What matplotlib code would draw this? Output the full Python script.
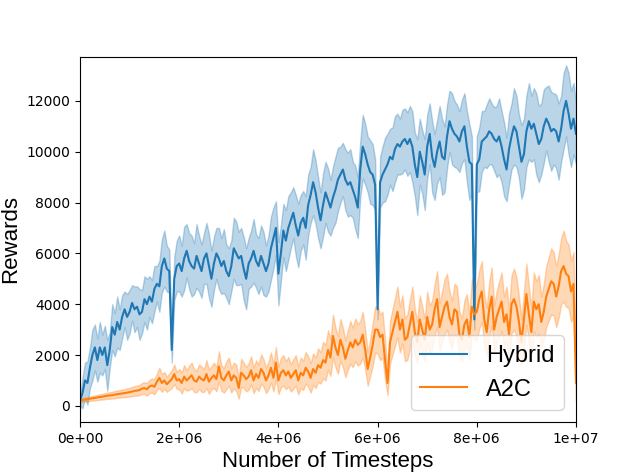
import numpy as np
import matplotlib
matplotlib.use('Agg')
import matplotlib.pyplot as plt
from matplotlib.ticker import FuncFormatter

plt.rcParams['font.family'] = ['DejaVu Sans']
label_font = ['Liberation Sans', 'DejaVu Sans']

# rewards sampled every 5e4 timesteps (0 .. 1e7)
hybrid_mean = [
    200, 500, 1000, 900, 1500, 2000, 2300, 1800, 2300, 2000, 2300, 1600, 2200, 3100, 2800, 3300, 3000, 3500, 3800, 3500,
    3700, 4050, 3800, 3900, 3600, 3700, 4200, 4000, 4300, 4100, 4600, 4800, 4700, 5500, 5800, 5400, 5300, 2200, 5000, 5500,
    5600, 5300, 5800, 6100, 5700, 5500, 5400, 5900, 5600, 5300, 5800, 6000, 5500, 5000, 5600, 6000, 5800, 5500, 5700, 5300,
    5100, 5500, 6200, 6000, 5800, 5900, 5400, 5000, 5600, 5800, 6100, 5700, 5500, 5900, 5600, 5300, 5600, 6200, 6600, 7000,
    5200, 6000, 6900, 6500, 7000, 7300, 7600, 7100, 6700, 7200, 7400, 7000, 7900, 8300, 8800, 8400, 7800, 7300, 7900, 8400,
    8100, 7800, 8200, 8500, 8900, 9100, 9300, 8900, 8700, 8800, 8500, 8200, 7800, 9300, 10200, 9900, 9500, 9200, 9100, 8700,
    3800, 8800, 9100, 9300, 9500, 9800, 9700, 10100, 10300, 10200, 10400, 10500, 10300, 10500, 10200, 9500, 9000, 10000, 9600, 9100,
    10200, 10700, 9800, 9400, 10000, 10400, 9800, 9700, 10600, 11200, 10900, 10700, 10600, 10400, 10800, 11000, 10200, 9600, 9500, 3400,
    9500, 9700, 10400, 10500, 10600, 10800, 10700, 10500, 10400, 10600, 10200, 9700, 9300, 10100, 10600, 11000, 10800, 10200, 9600, 9900,
    10800, 11200, 10900, 11100, 10700, 10300, 10500, 11000, 11300, 11100, 10800, 10900, 10800, 10400, 10900, 11600, 12000, 11500, 10900, 11300,
    10700,
]
hybrid_spread = [
    200, 600, 700, 850, 800, 1000, 900, 850, 1000, 800, 850, 1000, 700, 900, 850, 1000, 800, 850, 700, 900,
    850, 700, 900, 800, 1000, 850, 900, 1000, 800, 850, 900, 700, 1000, 1050, 1100, 900, 850, 500, 850, 1000,
    1100, 1000, 1250, 1050, 1100, 1200, 1000, 1250, 1100, 1050, 1000, 1200, 1250, 1100, 1050, 1000, 1200, 1100, 1250, 1050,
    1100, 1000, 1200, 1250, 1050, 1100, 1250, 1200, 1000, 1100, 1250, 1050, 1100, 1200, 1250, 1000, 1100, 1250, 1200, 1050,
    1250, 1100, 1050, 1200, 1250, 1100, 1000, 1200, 1250, 1100, 1050, 1250, 1200, 1100, 1300, 1250, 1200, 1100, 1250, 1200,
    1250, 1100, 1200, 1300, 1250, 1100, 1050, 1200, 1250, 1300, 1100, 1250, 1200, 1100, 1250, 1200, 1100, 1250, 1200, 1000,
    400, 1000, 1100, 1250, 1200, 1100, 1250, 1300, 1200, 1100, 1250, 1200, 1250, 1300, 1400, 1250, 1500, 1300, 1250, 1400,
    1250, 1200, 1400, 1300, 1250, 1400, 1500, 1300, 1250, 1200, 1400, 1300, 1250, 1200, 1250, 1300, 1400, 1500, 1100, 400,
    1100, 1250, 1200, 1100, 1250, 1300, 1200, 1250, 1400, 1500, 1400, 1450, 1250, 1400, 1300, 1500, 1400, 1250, 1450, 1400,
    1400, 1500, 1300, 1400, 1600, 1500, 1400, 1450, 1250, 1500, 1550, 1400, 1450, 1500, 1300, 1500, 1400, 1600, 1500, 1400,
    1200,
]
a2c_mean = [
    200, 230, 250, 260, 280, 300, 310, 330, 350, 360, 380, 400, 410, 420, 440, 460, 470, 490, 500, 520,
    540, 560, 590, 600, 620, 680, 700, 650, 760, 800, 750, 950, 1100, 900, 1000, 850, 950, 1050, 1250, 1000,
    1050, 900, 1150, 1000, 1100, 1200, 1000, 950, 1150, 1050, 1000, 1250, 950, 1100, 1200, 1050, 1550, 1100, 1000, 1200,
    1350, 1000, 1200, 1100, 700, 1300, 1200, 1050, 1150, 1400, 1000, 1250, 1100, 1450, 1300, 1000, 1200, 1500, 1100, 1700,
    1000, 1300, 1400, 1200, 1350, 1100, 1250, 1400, 1000, 1300, 1200, 1500, 1350, 1100, 1450, 1300, 1600, 1500, 1800, 1700,
    2200, 1900, 2750, 2300, 2000, 2600, 2300, 1850, 2200, 2500, 2300, 2600, 2400, 2500, 2800, 2200, 1450, 1900, 2400, 3000,
    3000, 2700, 2800, 1800, 900, 2500, 2900, 3300, 3700, 3000, 3400, 2600, 2700, 3200, 3700, 2900, 2500, 3400, 3000, 2600,
    3500, 3000, 3200, 3800, 4200, 3100, 3500, 3900, 4100, 3500, 3200, 3800, 3700, 2800, 2600, 3200, 3400, 2700, 3900, 3600,
    3700, 4200, 4500, 3400, 2900, 3800, 4300, 3000, 3500, 3800, 4100, 3300, 3600, 2800, 4000, 4200, 3900, 3300, 2500, 3400,
    4400, 3600, 2900, 4100, 3800, 4000, 3300, 3700, 4300, 4600, 4900, 4800, 4300, 4700, 5300, 5500, 5200, 5100, 4500, 4800,
    900,
]
a2c_spread = [
    60, 70, 80, 80, 90, 90, 100, 100, 110, 110, 120, 120, 130, 130, 140, 140, 150, 150, 160, 170,
    170, 180, 190, 200, 200, 220, 230, 250, 260, 280, 300, 320, 400, 350, 330, 300, 320, 350, 380, 330,
    400, 420, 450, 400, 480, 500, 450, 420, 480, 500, 450, 550, 480, 450, 500, 480, 600, 500, 480, 550,
    550, 480, 500, 530, 420, 550, 500, 480, 520, 550, 500, 540, 520, 580, 540, 500, 540, 600, 540, 620,
    540, 580, 600, 550, 580, 540, 580, 600, 550, 600, 580, 620, 600, 580, 620, 600, 660, 620, 720, 700,
    780, 720, 840, 780, 740, 820, 780, 720, 780, 840, 780, 840, 820, 840, 900, 780, 660, 720, 840, 900,
    950, 900, 900, 780, 480, 840, 900, 950, 1000, 900, 950, 840, 900, 950, 1000, 900, 840, 950, 900, 840,
    1000, 950, 950, 1000, 1100, 950, 1000, 1100, 1100, 1000, 950, 1000, 1000, 900, 850, 950, 1000, 900, 1100, 1000,
    1100, 1150, 1200, 1000, 950, 1100, 1150, 950, 1000, 1100, 1150, 1000, 1100, 950, 1150, 1200, 1150, 1000, 900, 1100,
    1200, 1100, 950, 1150, 1100, 1150, 1000, 1100, 1200, 1250, 1300, 1250, 1200, 1250, 1300, 1400, 1300, 1250, 1200, 1250,
    700,
]

steps = np.linspace(0, 1e7, len(hybrid_mean))

fig, ax = plt.subplots(figsize=(6.4, 4.74), dpi=100)

for mean, spread, label, color in [(hybrid_mean, hybrid_spread, 'Hybrid', 'tab:blue'),
                                   (a2c_mean, a2c_spread, 'A2C', 'tab:orange')]:
    mean = np.array(mean)
    spread = np.array(spread)
    ax.plot(steps, mean, color=color, label=label, linewidth=1.5)
    ax.fill_between(steps, mean - spread, mean + spread, color=color, alpha=0.3)

ax.set_xlim(0, 1e7)
ax.set_ylim(-630, 13730)
ax.xaxis.set_major_formatter(FuncFormatter(lambda v, p: '%.0e' % v))
ax.set_xlabel('Number of Timesteps', fontsize=16, family=label_font)
ax.set_ylabel('Rewards', fontsize=16, family=label_font)
ax.legend(loc='lower right', prop={'family': label_font, 'size': 17})

plt.savefig('out.png', dpi=100)
